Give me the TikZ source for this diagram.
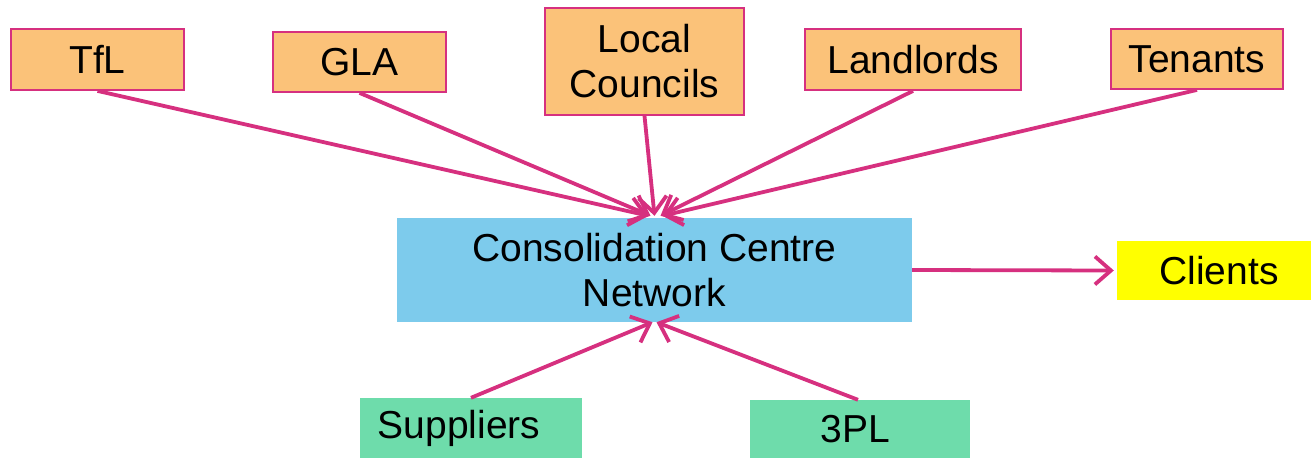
\documentclass[tikz,border=0pt]{standalone}
\usepackage{fontspec}
\setmainfont{Liberation Sans}
\usetikzlibrary{arrows.meta}

\definecolor{boxorange}{HTML}{FBC279}
\definecolor{boxpink}{HTML}{D6307F}
\definecolor{boxblue}{HTML}{7DCBEC}
\definecolor{boxgreen}{HTML}{6EDCAB}
\definecolor{boxyellow}{HTML}{FFFF00}

\tikzset{
  every node/.style={font=\fontsize{39}{45}\selectfont, inner sep=0pt, align=center},
  stake/.style={draw=boxpink, line width=1.8pt, fill=boxorange},
  flow/.style={draw=boxpink, line width=3.8pt, -{Straight Barb[length=16pt,width=28pt]}},
}

\begin{document}
\begin{tikzpicture}[x=1pt,y=-1pt]
\useasboundingbox (0,0) rectangle (1311,458);
% NODES
\node (tfl) [stake, minimum width=173pt, minimum height=61pt] at (97.5,59.5) {TfL};
\node (gla) [stake, minimum width=173pt, minimum height=60pt] at (359.5,62) {GLA};
\node (lc) [stake, minimum width=199pt, minimum height=107pt] at (644.5,61.5) {Local\\Councils};
\node (land) [stake, minimum width=216pt, minimum height=61pt] at (913,59.5) {Landlords};
\node (ten) [stake, minimum width=172pt, minimum height=60pt] at (1197,59) {Tenants};

\node (ccn) [fill=boxblue, minimum width=515pt, minimum height=104pt] at (654.5,270) {Consolidation Centre\\Network};

\node (cli) [fill=boxyellow, minimum width=194pt, minimum height=59pt] at (1214,270.5) {\hspace{10pt}Clients};

\node (sup) [fill=boxgreen, minimum width=222pt, minimum height=60pt] at (471,428) {Suppliers\hspace{24pt}};
\node (tpl) [fill=boxgreen, minimum width=220pt, minimum height=58pt] at (860,429) {3PL\hspace{10pt}};
% CONNECTIONS
\draw[flow] (tfl.south) -- ([xshift=-6pt,yshift=2pt]ccn.north);
\draw[flow] (gla.south) -- ([xshift=-4pt,yshift=2pt]ccn.north);
\draw[flow] (lc.south) -- ([xshift=0pt,yshift=2pt]ccn.north);
\draw[flow] (land.south) -- ([xshift=6pt,yshift=2pt]ccn.north);
\draw[flow] (ten.south) -- ([xshift=8pt,yshift=2pt]ccn.north);

\draw[flow] (ccn.east) -- ([xshift=-3pt]cli.west);

\draw[flow] (sup.north) -- ([xshift=-2pt]ccn.south);
\draw[flow] ([xshift=-2pt]tpl.north) -- ([xshift=2pt]ccn.south);
\end{tikzpicture}
\end{document}
